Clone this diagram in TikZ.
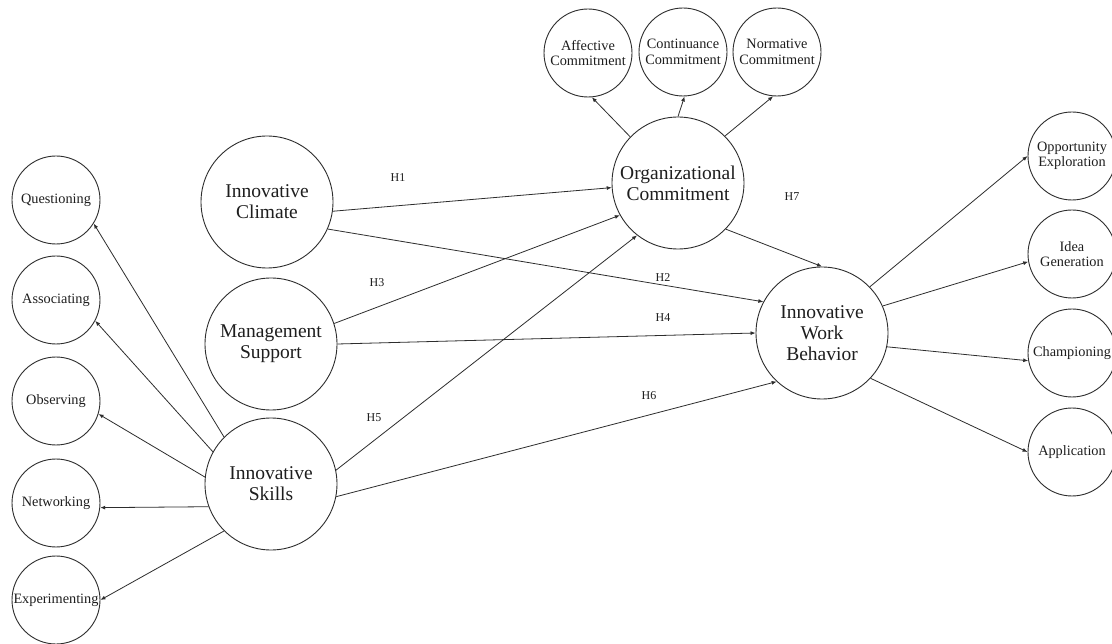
\documentclass[tikz,border=0pt]{standalone}
\usepackage{fontspec}
\setmainfont{Liberation Serif}
\usetikzlibrary{arrows.meta}
\definecolor{linec}{RGB}{45,45,45}
\definecolor{textc}{RGB}{30,30,30}
\begin{document}
\begin{tikzpicture}[x=1pt,y=-1pt,
  big/.style={circle,draw=linec,line width=0.9pt,minimum size=132pt,inner sep=0pt,align=center,font=\fontsize{19.5}{21}\selectfont,text=textc},
  small/.style={circle,draw=linec,line width=0.9pt,minimum size=88pt,inner sep=0pt,align=center,font=\fontsize{14.3}{15.5}\selectfont,text=textc},
  conn/.style={draw=linec,line width=0.8pt,-{Latex[length=5pt,width=4pt]}},
  hlab/.style={font=\fontsize{12}{14}\selectfont,text=textc}]
\useasboundingbox (0,0) rectangle (1112,644);
\fill[white] (0,0) rectangle (1112,644);
% main constructs
\node[big] (ic) at (267,202) {Innovative\\Climate};
\node[big] (ms) at (271,344) {Management\\Support};
\node[big] (is) at (271,484) {Innovative\\Skills};
\node[big] (oc) at (678,183) {Organizational\\Commitment};
\node[big] (iwb) at (822,333) {Innovative\\Work\\Behavior};
% left dimensions
\node[small] (q) at (56,200) {Questioning};
\node[small] (as) at (56,300) {Associating};
\node[small] (ob) at (56,401) {Observing};
\node[small] (nw) at (56,503) {Networking};
\node[small] (ex) at (56,600) {Experimenting};
% top dimensions
\node[small] (ac) at (588,53) {Affective\\Commitment};
\node[small] (cc) at (683,52) {Continuance\\Commitment};
\node[small] (nc) at (777,52) {Normative\\Commitment};
% right dimensions
\node[small] (oe) at (1072,156) {Opportunity\\Exploration};
\node[small] (ig) at (1072,254) {Idea\\Generation};
\node[small] (ch) at (1072,353) {Championing};
\node[small] (ap) at (1072,452) {Application};
% hypotheses
\draw[conn] (ic.-8) -- (oc.184);
\draw[conn] (ic.-24) -- (iwb.152);
\draw[conn] (ms.18) -- (oc.209);
\draw[conn] (ms.0) -- (iwb.180);
\draw[conn] (is.12) -- (oc.232);
\draw[conn] (is.-11) -- (iwb.227);
\draw[conn] (oc.-44) -- (iwb.90);
% OC dimensions
\draw[conn] (oc.136) -- (ac.-85);
\draw[conn] (oc.90) -- (cc.-88);
\draw[conn] (oc.45) -- (nc.-95);
% IWB dimensions
\draw[conn] (iwb.44) -- (oe.180);
\draw[conn] (iwb.24) -- (ig.190);
\draw[conn] (iwb.-12) -- (ch.190);
\draw[conn] (iwb.-43) -- (ap.180);
% IS dimensions
\draw[conn] (is.135) -- (q.-32);
\draw[conn] (is.151) -- (as.-28);
\draw[conn] (is.174) -- (ob.-17);
\draw[conn] (is.200) -- (nw.-6);
\draw[conn] (is.225) -- (ex.0);
% labels
\node[hlab] (h1) at (398,178) {H1};
\node[hlab] (h2) at (663,278) {H2};
\node[hlab] (h3) at (377,283) {H3};
\node[hlab] (h4) at (663,318) {H4};
\node[hlab] (h5) at (374,418) {H5};
\node[hlab] (h6) at (649,396) {H6};
\node[hlab] (h7) at (792,197) {H7};
\end{tikzpicture}
\end{document}
